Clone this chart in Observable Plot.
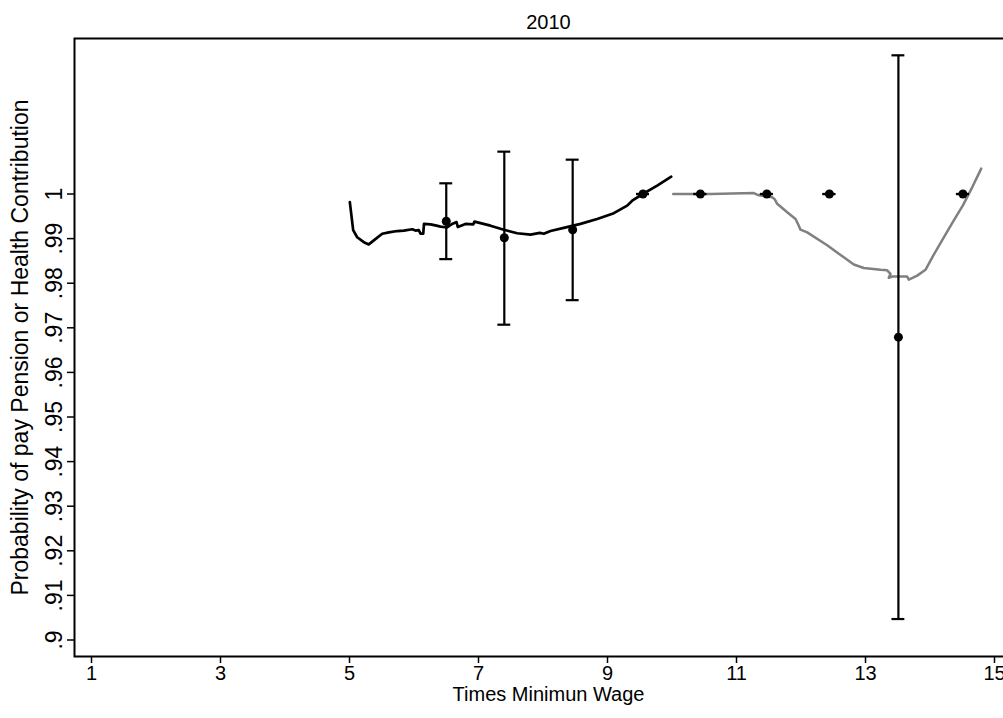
<!DOCTYPE html>
<html>
<head>
<meta charset="utf-8">
<script src="https://cdn.jsdelivr.net/npm/d3@7"></script>
<script src="https://cdn.jsdelivr.net/npm/@observablehq/plot@0.6"></script>
<style>
  html, body { margin: 0; padding: 0; background: white; overflow: hidden; }
  #chart svg { overflow: hidden; }
</style>
</head>
<body>
<div id="chart"></div>
<script>
// ---- data ----
const titleText = "2010";
const xLabel = "Times Minimun Wage";
const yLabel = "Probability of pay Pension or Health Contribution";
const xTicks = [1, 3, 5, 7, 9, 11, 13, 15];
const yTicks = [0.90, 0.91, 0.92, 0.93, 0.94, 0.95, 0.96, 0.97, 0.98, 0.99, 1.00];

// point estimates with confidence intervals
const pointX = [6.50, 7.40, 8.46, 9.55, 10.44, 11.47, 12.44, 13.51, 14.51];
const pointY = [0.9939, 0.9902, 0.9920, 1.0000, 1.0000, 1.0000, 1.0000, 0.9679, 1.0000];
const ciLow  = [0.9854, 0.9707, 0.9762, 1.0000, 1.0000, 1.0000, 1.0000, 0.9047, 1.0000];
const ciHigh = [1.0024, 1.0095, 1.0077, 1.0000, 1.0000, 1.0000, 1.0000, 1.0311, 1.0000];

// smoothed line, lower segment (black)
const blackX = [5.005, 5.057, 5.119, 5.222, 5.299, 5.377, 5.507, 5.609, 5.740, 5.842, 5.972, 6.023, 6.074, 6.101, 6.143, 6.155, 6.256, 6.349, 6.411, 6.512, 6.592, 6.659, 6.679, 6.798, 6.918, 6.938, 7.186, 7.392, 7.600, 7.806, 7.950, 8.012, 8.116, 8.322, 8.581, 8.840, 9.098, 9.305, 9.383, 9.547, 9.770, 9.988];
const blackY = [0.9982, 0.9919, 0.9903, 0.9892, 0.9887, 0.9896, 0.9911, 0.9914, 0.9917, 0.9918, 0.9921, 0.9918, 0.9919, 0.9911, 0.9911, 0.9933, 0.9932, 0.9929, 0.9927, 0.9925, 0.9933, 0.9937, 0.9926, 0.9933, 0.9932, 0.9938, 0.9929, 0.9920, 0.9912, 0.9909, 0.9913, 0.9911, 0.9917, 0.9924, 0.9933, 0.9944, 0.9957, 0.9974, 0.9985, 1.0000, 1.0019, 1.0039];

// smoothed line, upper segment (gray)
const grayX = [10.019, 10.60, 11.268, 11.346, 11.553, 11.589, 11.631, 11.786, 11.915, 11.966, 11.992, 12.096, 12.406, 12.663, 12.818, 12.974, 13.233, 13.336, 13.388, 13.361, 13.414, 13.501, 13.646, 13.671, 13.802, 13.930, 14.050, 14.214, 14.369, 14.508, 14.654, 14.794];
const grayY = [1.0000, 1.0000, 1.0002, 0.9997, 0.9993, 0.9989, 0.9978, 0.9959, 0.9944, 0.9929, 0.9920, 0.9914, 0.9885, 0.9858, 0.9842, 0.9834, 0.9830, 0.9829, 0.9821, 0.9812, 0.9815, 0.9815, 0.9815, 0.9808, 0.9817, 0.9830, 0.9862, 0.9903, 0.9941, 0.9974, 1.0015, 1.0057];

// ---- build tables ----
const points = pointX.map((x, i) => ({x, y: pointY[i], lo: ciLow[i], hi: ciHigh[i]}));
const blackLine = blackX.map((x, i) => ({x, y: blackY[i]}));
const grayLine = grayX.map((x, i) => ({x, y: grayY[i]}));
const capHalf = 0.1; // half-width of error-bar caps, in x units

const fontH = "'Liberation Sans', Arial, Helvetica, sans-serif";

const chart = Plot.plot({
  width: 1003,
  height: 718,
  marginLeft: 74,
  marginRight: -19,
  marginTop: 38,
  marginBottom: 62,
  style: {fontFamily: fontH, background: "white", color: "black"},
  x: {domain: [0.7364, 15.434], label: null},
  y: {domain: [0.8963, 1.03487], label: null},
  marks: [
    Plot.frame({stroke: "black", strokeWidth: 2}),
    Plot.axisX({ticks: xTicks, tickSize: 7, tickPadding: 2, fontSize: 20, label: null, tickFormat: d => String(d), strokeWidth: 1.5}),
    Plot.axisY({ticks: yTicks, tickSize: 7, tickFormat: () => "", label: null, strokeWidth: 1.5}),
    Plot.text(yTicks, {
      y: d => d, frameAnchor: "left", dx: -20, rotate: -90,
      text: d => d === 1 ? "1" : String(+d.toFixed(2)).replace(/^0/, ""),
      fontSize: 23, textAnchor: "middle", lineAnchor: "middle", fill: "black"
    }),
    Plot.text([yLabel], {frameAnchor: "left", dx: -54, rotate: -90, text: d => d, fontSize: 23, textAnchor: "middle", lineAnchor: "middle", fill: "black"}),
    Plot.text([xLabel], {frameAnchor: "bottom", dy: 38, text: d => d, fontSize: 20, textAnchor: "middle", lineAnchor: "middle", fill: "black"}),
    Plot.text([titleText], {frameAnchor: "top", dy: -16, text: d => d, fontSize: 20, textAnchor: "middle", lineAnchor: "middle", fill: "black"}),
    // smoothed lines
    Plot.line(blackLine, {x: "x", y: "y", stroke: "black", strokeWidth: 2.7, strokeLinejoin: "round"}),
    Plot.line(grayLine, {x: "x", y: "y", stroke: "#808080", strokeWidth: 2.5, strokeLinejoin: "round"}),
    // error bars
    Plot.ruleX(points, {x: "x", y1: "lo", y2: "hi", stroke: "black", strokeWidth: 2.2}),
    Plot.ruleY(points, {y: "lo", x1: d => d.x - capHalf, x2: d => d.x + capHalf, stroke: "black", strokeWidth: 2.2}),
    Plot.ruleY(points, {y: "hi", x1: d => d.x - capHalf, x2: d => d.x + capHalf, stroke: "black", strokeWidth: 2.2}),
    Plot.dot(points, {x: "x", y: "y", r: 4.5, fill: "black", stroke: "none"})
  ]
});
document.getElementById("chart").appendChild(chart);
</script>
</body>
</html>
